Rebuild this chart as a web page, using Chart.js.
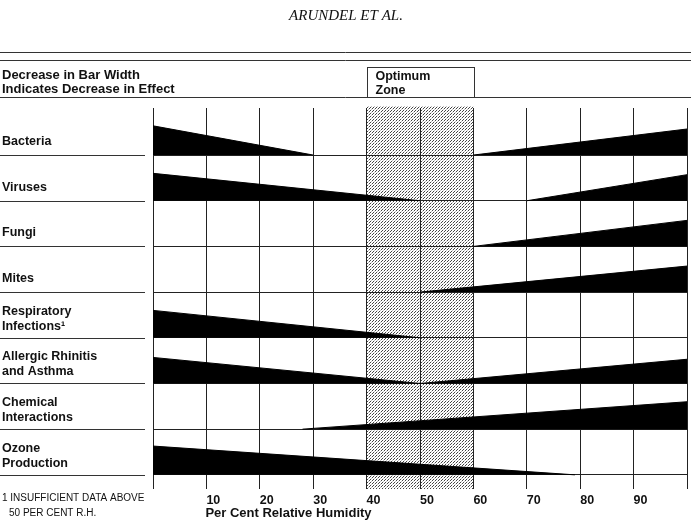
<!DOCTYPE html>
<html>
<head>
<meta charset="utf-8">
<script src="https://cdn.jsdelivr.net/npm/chart.js@4.4.1/dist/chart.umd.min.js"></script>
<style>
  body { margin: 0; background: #fff; }
  canvas { display: block; }
</style>
</head>
<body>
<canvas id="rhChart" width="691" height="521"></canvas>
<script>
/**************************************************************
 * 1. Data
 **************************************************************/
const categories = [
  ["Bacteria"],
  ["Viruses"],
  ["Fungi"],
  ["Mites"],
  ["Respiratory", "Infections¹"],
  ["Allergic Rhinitis", "and Asthma"],
  ["Chemical", "Interactions"],
  ["Ozone", "Production"]
];

// dry side: bar width at 0% RH, falling to nothing at dryEnd
const dryEnd   = [30, 50, null, null, 50, 50, null, 79];
const dryWidth = [0.64, 0.6, 0, 0, 0.6, 0.57, 0, 0.63];

// humid side: starts at humidStart, grows to humidWidth at 100% RH
const humidStart = [60, 70, 60, 50, null, 50, 28, null];
const humidWidth = [0.57, 0.57, 0.57, 0.57, 0, 0.53, 0.6, 0];

const rhTicks = [10, 20, 30, 40, 50, 60, 70, 80, 90];
const optimumZone = [40, 60];

/**************************************************************
 * 2. Build wedge datasets
 **************************************************************/
const datasets = [];

function wedge(points, base) {
  return {
    data: points,
    fill: { value: base },
    backgroundColor: "#000",
    borderColor: "#000",
    borderWidth: 1,
    pointRadius: 0,
    pointHoverRadius: 0,
    tension: 0
  };
}

categories.forEach((cat, i) => {
  const base = categories.length - 1 - i;
  if (dryEnd[i] !== null) {
    datasets.push(wedge([{ x: 0, y: base + dryWidth[i] }, { x: dryEnd[i], y: base }], base));
  }
  if (humidStart[i] !== null) {
    datasets.push(wedge([{ x: humidStart[i], y: base }, { x: 100, y: base + humidWidth[i] }], base));
  }
});

/**************************************************************
 * 3. Stippled optimum zone + page decorations
 **************************************************************/
function stipple(ctx) {
  const c = document.createElement("canvas");
  c.width = 3; c.height = 3;
  const p = c.getContext("2d");
  p.fillStyle = "#fff";
  p.fillRect(0, 0, 3, 3);
  p.fillStyle = "#444";
  p.fillRect(0, 0, 1, 1);
  p.fillRect(1, 2, 1, 1);
  p.fillStyle = "#bbb";
  p.fillRect(2, 1, 1, 1);
  return ctx.createPattern(c, "repeat");
}

const zonePlugin = {
  id: "zone",
  beforeDraw(chart) {
    const { ctx, chartArea, scales } = chart;
    const x0 = scales.x.getPixelForValue(optimumZone[0]);
    const x1 = scales.x.getPixelForValue(optimumZone[1]);
    ctx.save();
    ctx.fillStyle = stipple(ctx);
    ctx.fillRect(x0, chartArea.top - 2, x1 - x0, chartArea.bottom - chartArea.top + 2);
    ctx.restore();
  }
};

const textPlugin = {
  id: "texts",
  afterDraw(chart) {
    const { ctx, scales } = chart;
    const W = chart.width;
    const ink = "#111";
    ctx.save();

    // running head
    ctx.fillStyle = ink;
    ctx.font = "italic 15px 'Liberation Serif'";
    ctx.textAlign = "center";
    ctx.textBaseline = "middle";
    ctx.fillText("ARUNDEL ET AL.", 346, 16);

    // rules
    ctx.strokeStyle = "#333";
    ctx.lineWidth = 1;
    [52.5, 60.5, 97.5].forEach(y => {
      ctx.beginPath();
      ctx.moveTo(0, y);
      ctx.lineTo(W, y);
      ctx.stroke();
    });

    // header
    ctx.textAlign = "left";
    ctx.font = "bold 13px 'Liberation Sans'";
    ctx.fillText("Decrease in Bar Width", 2, 75);
    ctx.fillText("Indicates Decrease in Effect", 2, 89);

    // optimum zone box
    const zx0 = Math.round(scales.x.getPixelForValue(optimumZone[0])) + 0.5;
    const zx1 = Math.round(scales.x.getPixelForValue(optimumZone[1])) + 1.5;
    ctx.strokeRect(zx0, 67.5, zx1 - zx0, 30);
    ctx.font = "bold 12.5px 'Liberation Sans'";
    ctx.fillText("Optimum", zx0 + 8, 77);
    ctx.fillText("Zone", zx0 + 8, 91);

    // row labels and their rules
    categories.forEach((lines, i) => {
      const yb = Math.round(scales.y.getPixelForValue(categories.length - 1 - i)) + 0.5;
      ctx.beginPath();
      ctx.moveTo(0, yb);
      ctx.lineTo(145, yb);
      ctx.stroke();
      if (lines.length === 1) {
        ctx.fillText(lines[0], 2, yb - 14);
      } else {
        ctx.fillText(lines[0], 2, yb - 27);
        ctx.fillText(lines[1], 2, yb - 12);
      }
    });

    // axis title
    ctx.font = "bold 13px 'Liberation Sans'";
    ctx.fillText("Per Cent Relative Humidity", scales.x.getPixelForValue(10) - 1, 513);

    // footnote
    ctx.font = "10px 'Liberation Sans'";
    ctx.fillText("1 INSUFFICIENT DATA ABOVE", 2, 498);
    ctx.fillText("50 PER CENT R.H.", 9, 513);

    ctx.restore();
  }
};

/**************************************************************
 * 4. Chart
 **************************************************************/
new Chart(document.getElementById("rhChart"), {
  type: "line",
  data: { datasets: datasets },
  options: {
    responsive: false,
    animation: false,
    events: [],
    layout: { padding: { left: 153, right: 0, top: 108, bottom: 9 } },
    scales: {
      x: {
        type: "linear",
        min: 0,
        max: 100,
        ticks: {
          stepSize: 10,
          align: "start",
          padding: 4,
          color: "#111",
          font: { family: "'Liberation Sans'", size: 12.5, weight: "bold" },
          callback: v => rhTicks.includes(v) ? v : ""
        },
        grid: { color: "#222", lineWidth: 1, drawTicks: false },
        border: { display: false }
      },
      y: {
        min: -0.31,
        max: 8.03,
        ticks: { display: false, stepSize: 1 },
        grid: {
          drawTicks: false,
          color: c => (Number.isInteger(c.tick.value) && c.tick.value >= 0 && c.tick.value <= 7) ? "#222" : "rgba(0,0,0,0)"
        },
        border: { display: false }
      }
    },
    plugins: {
      legend: { display: false },
      tooltip: { enabled: false }
    }
  },
  plugins: [zonePlugin, textPlugin]
});
</script>
</body>
</html>
